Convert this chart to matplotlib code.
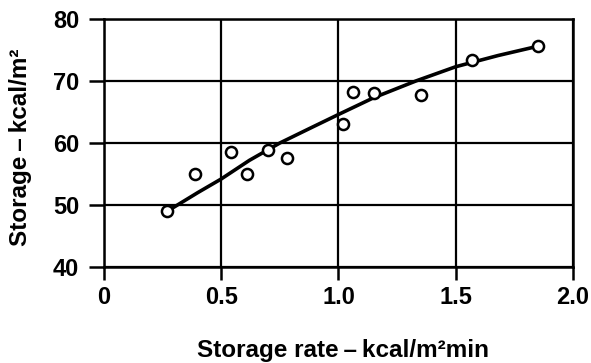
import numpy as np
import matplotlib.pyplot as plt

plt.rcParams['font.family'] = ['Liberation Sans', 'DejaVu Sans']

# measured points
rate = [0.27, 0.39, 0.54, 0.61, 0.70, 0.78, 1.02, 1.06, 1.15, 1.35, 1.57, 1.85]
storage = [49.0, 55.0, 58.6, 55.0, 58.8, 57.5, 63.0, 68.3, 68.1, 67.8, 73.4, 75.7]

# hand-fitted trend line
fit_rate = [0.27, 0.40, 0.50, 0.62, 0.75, 0.88, 1.00, 1.15, 1.33, 1.50, 1.68, 1.85]
fit_storage = [49.0, 52.0, 54.2, 57.2, 60.0, 62.4, 64.6, 67.3, 70.0, 72.3, 74.1, 75.6]

xticks = [0, 0.5, 1.0, 1.5, 2.0]
xticklabels = ['0', '0.5', '1.0', '1.5', '2.0']
yticks = [40, 50, 60, 70, 80]

fig = plt.figure(figsize=(5.91, 3.63), dpi=100)
ax = fig.add_axes([0.176, 0.2645, 0.7935, 0.6832])

ax.plot(fit_rate, fit_storage, color='black', lw=2.6, solid_capstyle='round', zorder=2)
ax.plot(rate, storage, 'o', ms=8, mfc='white', mec='black', mew=1.8, zorder=3)

ax.set_xlim(0, 2.0)
ax.set_ylim(40, 80)
ax.set_xticks(xticks)
ax.set_xticklabels(xticklabels)
ax.set_yticks(yticks)
ax.grid(True, color='black', lw=1.6)
ax.set_axisbelow(True)
for s in ax.spines.values():
    s.set_linewidth(1.8)
ax.tick_params(direction='out', length=11, width=1.8, labelsize=17, pad=7)
ax.tick_params(axis='x', length=9, pad=5)
for lbl in ax.get_xticklabels() + ax.get_yticklabels():
    lbl.set_fontweight('bold')

ax.set_xlabel('Storage rate\u2009\u2013\u2009kcal/m\u00b2min', fontsize=17.5, fontweight='bold')
ax.set_ylabel('Storage\u2009\u2013\u2009kcal/m\u00b2', fontsize=17.5, fontweight='bold')
# place axis labels in figure coordinates
ax.xaxis.set_label_coords(343 / 591, 1 - 350 / 363, transform=fig.transFigure)
ax.yaxis.set_label_coords(21 / 591, 1 - 147 / 363, transform=fig.transFigure)
ax.xaxis.label.set_va('center')
ax.yaxis.label.set_va('center')

fig.savefig('out.png', dpi=100)
